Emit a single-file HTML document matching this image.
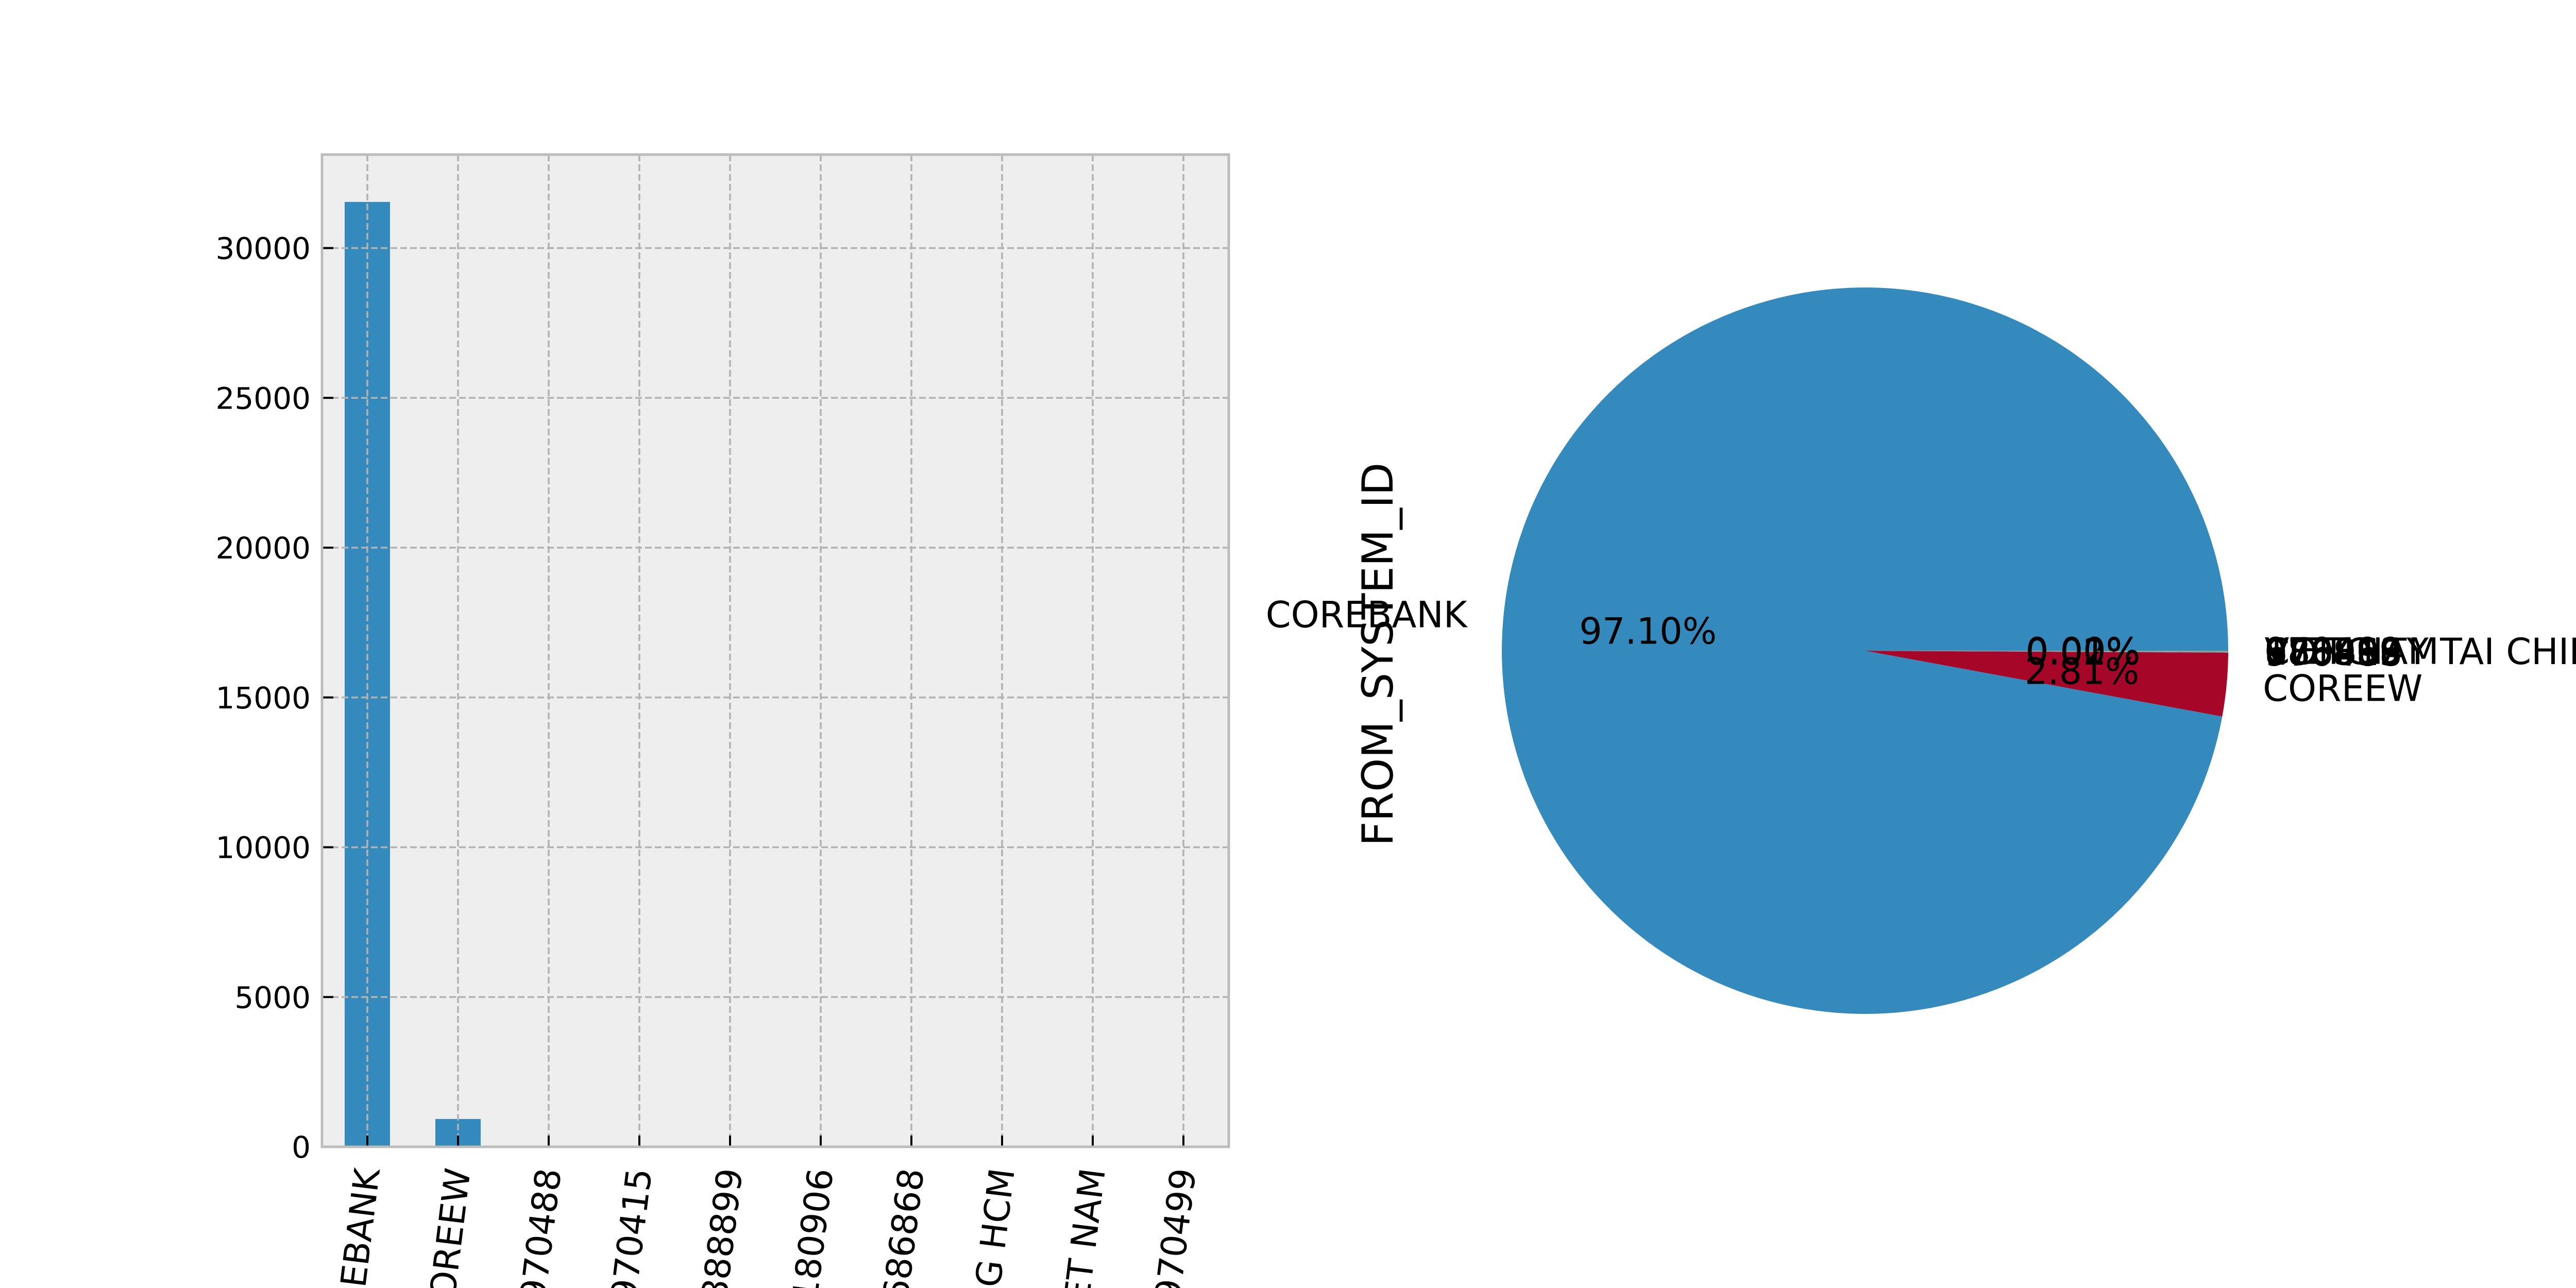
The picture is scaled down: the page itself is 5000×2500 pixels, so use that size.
<!DOCTYPE html>
<html><head><meta charset="utf-8"><style>
html,body{margin:0;padding:0;background:#fff;width:5000px;height:2500px;overflow:hidden;}
svg{display:block;font-family:"DejaVu Sans","Liberation Sans",sans-serif;}
</style></head><body>
<svg id="fig" width="5000" height="2500" viewBox="0 0 5000 2500" xmlns="http://www.w3.org/2000/svg">
<defs><clipPath id="frame"><rect x="0" y="0" width="5000" height="2500"/></clipPath></defs>
<rect width="5000" height="2500" fill="#fff"/>
<g clip-path="url(#frame)">
<g id="bar-ax"></g>
<g id="pie-ax"></g>
</g>
</svg>
<script>
const categories = ["COREBANK","COREEW","970488","970415","888899","180906","686868","NGAN HANG HCM","NGAN HANG VIET NAM","970499"];
const counts = [31540, 930, 4, 4, 3, 3, 3, 3, 3, 3];
const yTicks = [0, 5000, 10000, 15000, 20000, 25000, 30000];
const pieLabels = ["COREBANK","COREEW","970488","970415","888899","180906","686868","CONG TY TAI CHINH","VIET NAM","970499"];
const pieValues = [97.10, 2.81, 0.02, 0.01, 0.01, 0.01, 0.01, 0.01, 0.01, 0.01];
const piePctText = ["97.10%","2.81%","0.02%","0.01%","0.01%","0.01%","0.01%","0.01%","0.01%","0.00%"];

const NS = "http://www.w3.org/2000/svg";
function mk(tag, attrs, parent){const e=document.createElementNS(NS,tag);for(const k in attrs)e.setAttribute(k,attrs[k]);parent.appendChild(e);return e;}

// ---- bar chart ----
const bar = document.getElementById('bar-ax');
const L=625,R=2385,T=300,B=2226;
const yMax = 30000, y30 = 481.5;
const yScale = v => B - v*(B-y30)/yMax;
const band = (R-L)/categories.length;
const xScale = i => L + band*(i+0.5);
mk('rect',{x:L,y:T,width:R-L,height:B-T,fill:'#eeeeee'},bar);
categories.forEach((c,i)=>{
  const h=B-yScale(counts[i]);
  const r=mk('rect',{x:xScale(i)-band*0.25,y:yScale(counts[i]),width:band*0.5,height:h,fill:'#348abd'},bar);
  
  
});
yTicks.forEach(t=>{
  const y=yScale(t);
  mk('line',{x1:L,x2:R,y1:y,y2:y,stroke:'#b2b2b2','stroke-width':3.5,'stroke-dasharray':'13 6'},bar);
  mk('line',{x1:L,x2:L+22,y1:y,y2:y,stroke:'#000','stroke-width':4},bar);
  const tx=mk('text',{x:L-22,y:y+21,'text-anchor':'end','font-size':58,fill:'#000'},bar);
  tx.textContent=t;
  
  
});
categories.forEach((c,i)=>{
  const x=xScale(i);
  mk('line',{x1:x,x2:x,y1:T,y2:B,stroke:'#b2b2b2','stroke-width':3.5,'stroke-dasharray':'13 6'},bar);
  mk('line',{x1:x,x2:x,y1:B,y2:B-22,stroke:'#000','stroke-width':4},bar);
  const tx=mk('text',{x:0,y:0,'text-anchor':'end','font-size':68,fill:'#000',transform:`translate(${x+24},${B+45}) rotate(-83)`},bar);
  tx.textContent=c;
  
  
});
mk('rect',{x:L,y:T,width:R-L,height:B-T,fill:'none',stroke:'#bcbcbc','stroke-width':5},bar);

// ---- pie chart ----
const pie = document.getElementById('pie-ax');
const cx=3620, cy=1263, rad=705;
const colors=['#348abd','#a60628','#7a68a6','#467821','#d55e00','#cc79a7','#56b4e9','#009e73','#f0e442','#0072b2'];
const total=pieValues.reduce((a,b)=>a+b,0);
let ang=0;
pieValues.forEach((v,i)=>{
  const a0=ang, a1=ang+v/total*2*Math.PI; ang=a1;
  const x0=cx+rad*Math.cos(a0), y0=cy-rad*Math.sin(a0);
  const x1=cx+rad*Math.cos(a1), y1=cy-rad*Math.sin(a1);
  const large=(a1-a0)>Math.PI?1:0;
  const p=mk('path',{d:`M${cx},${cy} L${x0},${y0} A${rad},${rad} 0 ${large} 0 ${x1},${y1} Z`,fill:colors[i]},pie);
  
  
  const mid=(a0+a1)/2, c=Math.cos(mid), s=Math.sin(mid);
  const lt=mk('text',{x:cx+1.1*rad*c,y:cy-1.1*rad*s+25,'text-anchor':c<0?'end':'start','font-size':70,fill:'#000'},pie);
  lt.textContent=pieLabels[i];
  
  
  const pt=mk('text',{x:cx+0.6*rad*c,y:cy-0.6*rad*s+25,'text-anchor':'middle','font-size':70,fill:'#000'},pie);
  pt.textContent=piePctText[i];
  
  
});
const yl=mk('text',{x:0,y:0,'text-anchor':'middle','font-size':83,fill:'#000',transform:`translate(2703,1270) rotate(-90)`},pie);
yl.textContent='FROM_SYSTEM_ID';


</script>
</body></html>
